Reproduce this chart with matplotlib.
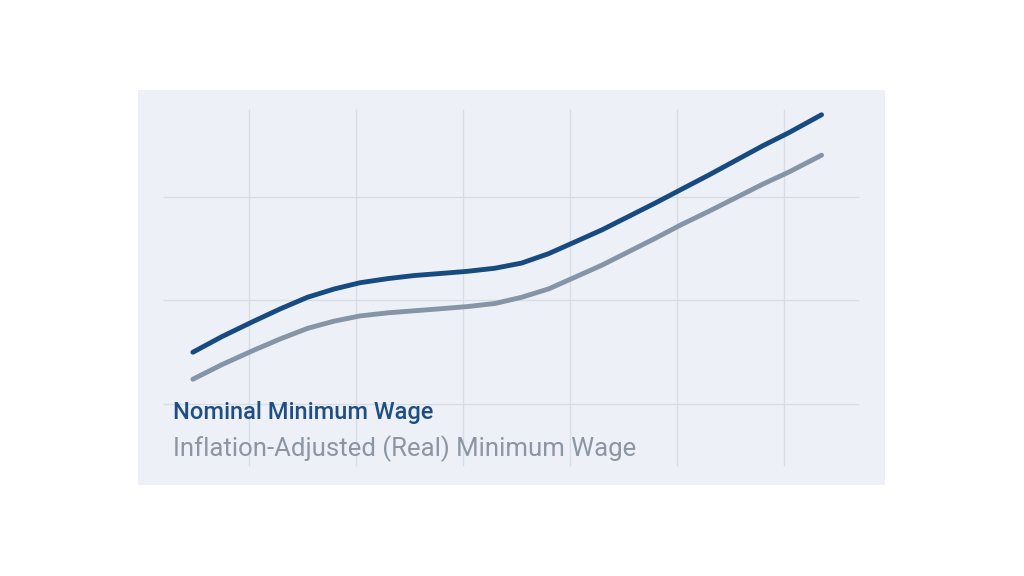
import matplotlib.pyplot as plt

# Values (grid units)
x_nominal = [0.48, 0.75, 1.05, 1.30, 1.55, 1.80, 2.04, 2.30, 2.55, 2.80, 3.04, 3.30, 3.55, 3.80,
             4.04, 4.30, 4.55, 4.80, 5.04, 5.30, 5.55, 5.80, 6.05, 6.35]
nominal = [1.50, 1.65, 1.80, 1.92, 2.03, 2.11, 2.17, 2.21, 2.24, 2.26, 2.28, 2.31, 2.36, 2.45,
           2.56, 2.68, 2.81, 2.94, 3.07, 3.21, 3.35, 3.49, 3.62, 3.79]
x_real = [0.48, 0.75, 1.05, 1.30, 1.55, 1.80, 2.04, 2.30, 2.55, 2.80, 3.04, 3.30, 3.55, 3.80,
          4.04, 4.30, 4.55, 4.80, 5.04, 5.30, 5.55, 5.80, 6.05, 6.35]
real = [1.24, 1.38, 1.52, 1.63, 1.73, 1.80, 1.85, 1.88, 1.90, 1.92, 1.94, 1.97, 2.03, 2.11,
        2.22, 2.34, 2.47, 2.60, 2.73, 2.86, 2.99, 3.12, 3.24, 3.40]

plt.rcParams['font.family'] = ['Roboto', 'DejaVu Sans']
fig = plt.figure(figsize=(10.24, 5.76), dpi=100)
fig.patch.set_facecolor('white')
ax = fig.add_axes([0.135, 0.158, 0.729, 0.686])
ax.set_facecolor('#edf1f7')
ax.set_xlim(-0.03, 6.94)
ax.set_ylim(0.22, 4.03)
for s in ax.spines.values():
    s.set_visible(False)
ax.set_xticks([])
ax.set_yticks([])

# grid
ax.vlines(range(1, 7), 0.4, 3.85, color='#d8dde5', lw=1, zorder=1)
ax.hlines([1, 2, 3], 0.2, 6.7, color='#d8dde5', lw=1, zorder=1)

ax.plot(x_real, real, color='#8594a6', lw=3.5, solid_capstyle='round',
        solid_joinstyle='round', zorder=3)
ax.plot(x_nominal, nominal, color='#174a80', lw=3.5, solid_capstyle='round',
        solid_joinstyle='round', zorder=4)

fig.text(173 / 1024, 1 - 413 / 576, 'Nominal Minimum Wage', color='#1f4f82',
         fontsize=17, fontweight='medium', va='center')
fig.text(173 / 1024, 1 - 449 / 576, 'Inflation-Adjusted (Real) Minimum Wage', color='#8a96a3',
         fontsize=18.5, va='center')

fig.savefig('out.png', dpi=100)
